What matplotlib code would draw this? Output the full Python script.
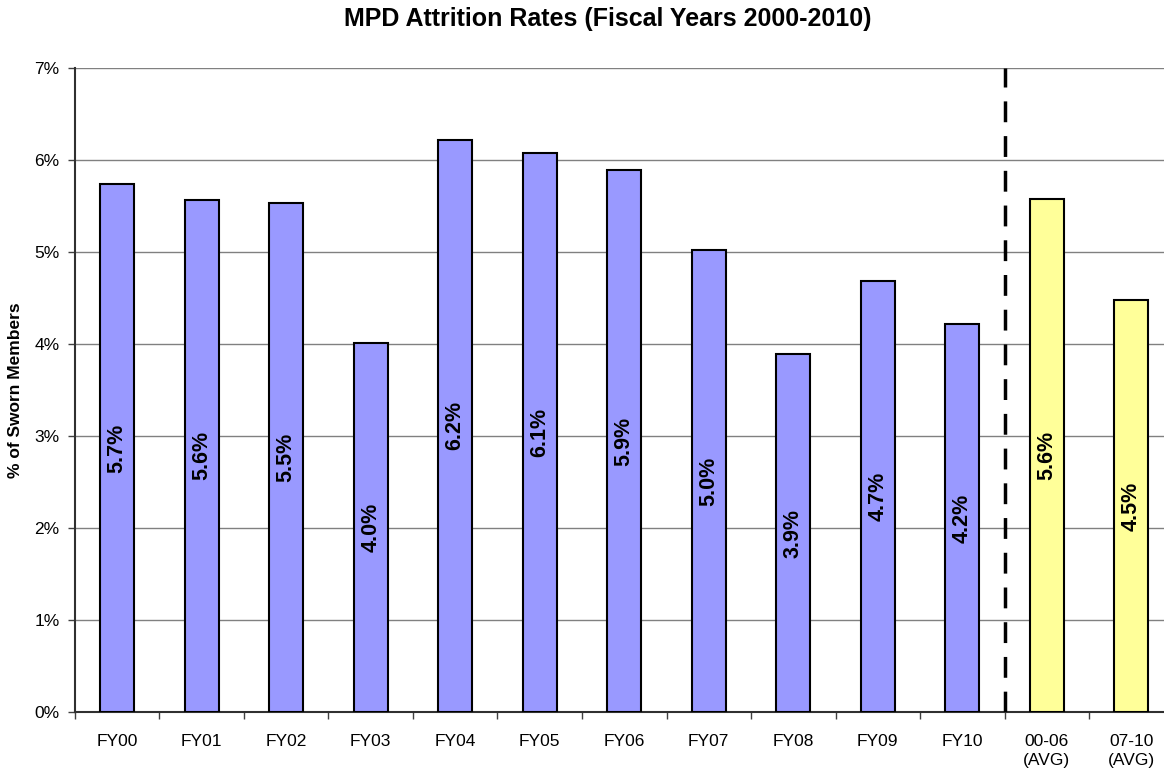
import numpy as np
import matplotlib
matplotlib.use("Agg")
import matplotlib.pyplot as plt

plt.rcParams['font.family'] = ['Liberation Sans', 'DejaVu Sans']

categories = ['FY00', 'FY01', 'FY02', 'FY03', 'FY04', 'FY05', 'FY06',
              'FY07', 'FY08', 'FY09', 'FY10', '00-06\n(AVG)', '07-10\n(AVG)']
rates = [5.74, 5.57, 5.53, 4.01, 6.22, 6.08, 5.89, 5.02, 3.89, 4.69, 4.22, 5.58, 4.48]
labels = ['5.7%', '5.6%', '5.5%', '4.0%', '6.2%', '6.1%', '5.9%',
          '5.0%', '3.9%', '4.7%', '4.2%', '5.6%', '4.5%']
n_years = 11

fig = plt.figure(figsize=(11.64, 7.7), dpi=100)
ax = fig.add_axes([0.0644, 0.0753, 0.9438, 0.8364])

x = np.arange(len(categories))
colors = ['#9999FF'] * n_years + ['#FFFF99'] * (len(categories) - n_years)
ax.bar(x, rates, width=0.40, color=colors, edgecolor='black', linewidth=1.5, zorder=3)

for xi, r, lab in zip(x, rates, labels):
    ax.text(xi, r / 2, lab, rotation=90, ha='center', va='center',
            fontsize=15.5, fontweight='bold', zorder=4)

# separator between yearly and averages
ax.axvline(n_years - 0.5, color='black', linewidth=2.5, dashes=(6, 4), zorder=4)

ax.set_xlim(-0.5, len(categories) - 0.5)
ax.set_ylim(0, 7)
ax.set_yticks(range(8))
ax.set_yticklabels(['%d%%' % v for v in range(8)], fontsize=12.5)
ax.yaxis.grid(True, color='#808080', linewidth=1.0, zorder=0)

ax.set_xticks(x)
ax.set_xticklabels(categories, fontsize=12.5, linespacing=1.35)
ax.tick_params(axis='x', which='major', length=0, pad=16)
ax.set_xticks(np.arange(len(categories) + 1) - 0.5, minor=True)
ax.tick_params(axis='x', which='minor', length=5, width=1, color='#404040')
ax.tick_params(axis='y', length=5, width=1, color='#404040', pad=6)

for side in ['top', 'right']:
    ax.spines[side].set_visible(False)
for side in ['left', 'bottom']:
    ax.spines[side].set_linewidth(1.5)
    ax.spines[side].set_color('#303030')

ax.set_ylabel('% of Sworn Members', fontsize=12.5, fontweight='bold', labelpad=8)
fig.text(0.522, 0.975, 'MPD Attrition Rates (Fiscal Years 2000-2010)',
         ha='center', va='center', fontsize=18, fontweight='bold')

fig.savefig('out.png', dpi=100)
